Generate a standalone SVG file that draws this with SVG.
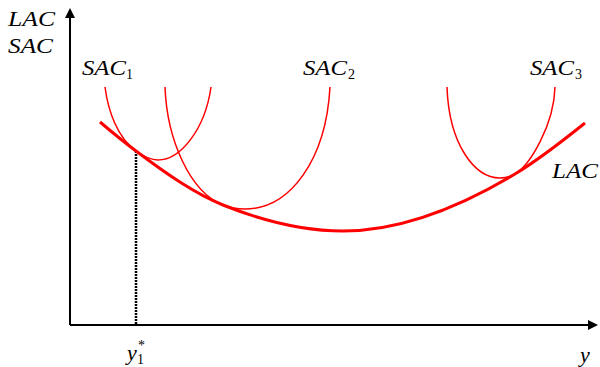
<svg xmlns="http://www.w3.org/2000/svg" width="600" height="367" viewBox="0 0 600 367">
<style>
.t{font-family:"Liberation Serif","DejaVu Serif",serif;font-style:italic;font-size:22px;fill:#000}
.s{font-family:"Liberation Serif","DejaVu Serif",serif;font-size:14px;fill:#000}
.sac{fill:none;stroke:#ff0000;stroke-width:1.5}
.lac{fill:none;stroke:#ff0000;stroke-width:3}
.ax{stroke:#000;stroke-width:2;fill:none}
</style>
<defs>
<marker id="ah" viewBox="0 0 10 10" refX="8" refY="5" markerWidth="5" markerHeight="5" orient="auto">
<path d="M0,0 L10,5 L0,10 z" fill="#000"/>
</marker>
</defs>
<rect width="600" height="367" fill="#fff"/>
<g id="connectors">
<line class="ax" x1="70" y1="325" x2="70" y2="10" marker-end="url(#ah)"/>
<line class="ax" x1="70" y1="325" x2="596" y2="325" marker-end="url(#ah)"/>
<line x1="136" y1="151" x2="136" y2="325" stroke="#000" stroke-width="2.5" stroke-dasharray="2,1"/>
</g>
<g id="LAC">
<path class="lac" d="M100,122 C112,132.2 124,142 136,151 C165,172.75 194,193.4 223,205 C263,221 303,231 343,231 C400.3,231 457.7,208.4 515,174 C538.3,160 561.7,141.7 585,123"/>
<text class="t" x="552" y="178" textLength="46" lengthAdjust="spacingAndGlyphs">LAC</text>
</g>
<g id="SAC1">
<path class="sac" d="M105,87 C108,110 117,137.4 136,151 C143,156 150,160 158,160 C180,160 205,130 211,87"/>
<text class="t" x="82" y="75" textLength="44" lengthAdjust="spacingAndGlyphs">SAC</text>
<text class="s" x="126" y="79">1</text>
</g>
<g id="SAC2">
<path class="sac" d="M165,87 C167,140 190,192 223,205 C230,207.8 238,209 245,209 C290,209 326,160 330,87"/>
<text class="t" x="303" y="75" textLength="44" lengthAdjust="spacingAndGlyphs">SAC</text>
<text class="s" x="348" y="79">2</text>
</g>
<g id="SAC3">
<path class="sac" d="M447,87 C449,145 475,178 500,178 C505,178 510,177 515,174 C530,165 554,125 555,87"/>
<text class="t" x="530" y="75" textLength="44" lengthAdjust="spacingAndGlyphs">SAC</text>
<text class="s" x="575" y="79">3</text>
</g>
<g id="axis-labels">
<text class="t" x="8" y="26" textLength="47" lengthAdjust="spacingAndGlyphs">LAC</text>
<text class="t" x="8" y="53" textLength="45" lengthAdjust="spacingAndGlyphs">SAC</text>
<text class="t" x="127" y="360">y</text>
<text class="s" x="137" y="364">1</text>
<text class="s" x="138" y="350">*</text>
<text class="t" x="580" y="362">y</text>
</g>
</svg>
